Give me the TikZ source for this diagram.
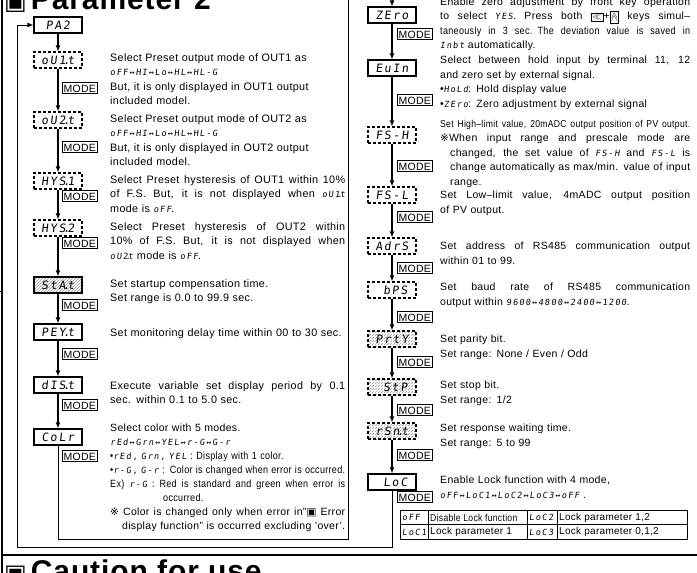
\documentclass[tikz,border=0pt]{standalone}
\usepackage{fontspec}
\setmainfont{Liberation Sans}[LetterSpace=3]
\newfontfamily\cndf[FakeStretch=0.86,LetterSpace=3]{Liberation Sans}
\newfontfamily\segf[FakeSlant=0.12,LetterSpace=15]{DejaVu Sans Mono}
\newfontfamily\symf{DejaVu Sans}
\usetikzlibrary{arrows.meta,patterns}

\newcommand{\sg}[1]{{\segf\fontsize{8.5}{10}\selectfont #1}}
\newcommand{\sdot}{\kern-2.5pt.\kern-2.5pt}
\newcommand{\jl}[1]{\makebox[\hsize][s]{\spaceskip=.28em plus 3em minus .04em\relax #1}}
\newcommand{\jlin}[1]{\hspace*{10pt}\makebox[\dimexpr\hsize-10pt\relax][s]{\spaceskip=.28em plus 3em minus .04em\relax #1}}
\newcommand{\keyic}[1]{\smash{\setlength{\fboxsep}{0.8pt}\setlength{\fboxrule}{1pt}\fbox{\fontsize{9}{9}\selectfont #1}}}

\begin{document}
\begin{tikzpicture}[x=1pt, y=-1pt,
  disp/.style={draw, line width=1.1pt, minimum width=48pt, minimum height=16pt, inner sep=0pt, font=\segf\fontsize{11.5}{12}\selectfont},
  dispd/.style={disp, dash pattern=on 3pt off 2pt},
  hatch/.style={pattern=north east lines, pattern color=gray!80},
  modekey/.style={draw, line width=0.7pt, anchor=west, inner xsep=1.2pt, inner ysep=1.5pt, text height=8pt, text depth=0pt, font=\fontsize{10.5}{11}\selectfont},
  desc/.style={anchor=north west, inner sep=0pt, align=left, text width=235pt, font=\fontsize{10.8}{14.5}\selectfont},
  rdesc/.style={desc, text width=250pt, font=\fontsize{10.5}{14.5}\selectfont},
  cellt/.style={anchor=west, inner sep=0pt, font=\fontsize{10}{10}\selectfont},
  flow/.style={line width=1.2pt},
  >={Latex[length=6pt,width=5pt]}
]
\useasboundingbox (0,0) rectangle (697,573);
\clip (0,0) rectangle (697,573);

% frame and section headers
\draw[line width=2pt] (2,-5) -- (2,580);
\draw[line width=2pt] (2,555) -- (700,555);
\draw (0,291) -- (3,291);
\node[anchor=base west, inner sep=0pt, font=\bfseries\fontsize{30}{30}\selectfont] (ttl) at (4,9) {{\symf\fontsize{24}{24}\selectfont ▣}\hspace{4pt}Parameter 2};
\node[anchor=base west, inner sep=0pt, font=\bfseries\fontsize{30}{30}\selectfont] (ctn) at (4,581) {{\symf\fontsize{24}{24}\selectfont ▣}\hspace{4pt}Caution for use};

% left column displays
\node[disp]        (pa2)  at (58,25)  {PA2};
\node[dispd]       (out1) at (58,60)  {oU1\sdot t};
\node[dispd]       (out2) at (58,120) {oU2\sdot t};
\node[dispd]       (hys1) at (58,181) {HYS\sdot 1};
\node[dispd]       (hys2) at (58,228) {HYS\sdot 2};
\node[disp, hatch] (star) at (58,285) {StA\sdot t};
\node[disp]        (pert) at (58,332) {PEY\sdot t};
\node[disp]        (dist) at (58,385) {dIS\sdot t};
\node[disp]        (colr) at (58,437) {CoLr};

% right column displays
\node[disp]         (zero) at (392,15)  {ZEro};
\node[disp]         (evin) at (392,68)  {EuIn};
\node[dispd]        (fsh)  at (392,135) {FS-H};
\node[dispd]        (fsl)  at (392,195) {FS-L};
\node[dispd]        (adrs) at (392,246) {AdrS};
\node[dispd]        (bps)  at (392,290) {\phantom{b}bPS};
\node[dispd, hatch] (prty) at (392,339) {PrtY};
\node[dispd, hatch] (stp)  at (392,387) {\phantom{b}StP};
\node[dispd, hatch] (rsnt) at (392,431) {rSn\sdot t};
\node[disp]         (loc)  at (392,482) {\phantom{b}LoC};

% MODE keys
\node[modekey] (mout1) at (62,88)  {MODE};
\node[modekey] (mout2) at (62,147) {MODE};
\node[modekey] (mhys1) at (62,196) {MODE};
\node[modekey] (mhys2) at (62,243) {MODE};
\node[modekey] (mstar) at (62,305) {MODE};
\node[modekey] (mpert) at (62,354) {MODE};
\node[modekey] (mdist) at (62,405) {MODE};
\node[modekey] (mcolr) at (62,456) {MODE};
\node[modekey] (mzero) at (397,34)  {MODE};
\node[modekey] (mevin) at (397,100) {MODE};
\node[modekey] (mfsh)  at (397,166) {MODE};
\node[modekey] (mfsl)  at (397,217) {MODE};
\node[modekey] (madrs) at (397,268) {MODE};
\node[modekey] (mbps)  at (397,317) {MODE};
\node[modekey] (mprty) at (397,362) {MODE};
\node[modekey] (mstp)  at (397,410) {MODE};
\node[modekey] (mrsnt) at (397,455) {MODE};
\node[modekey] (mloc)  at (397,497) {MODE};

% flow
\draw[->, flow] (pa2) -- (out1);
\draw[->, flow] (out1) -- (out2);
\draw[->, flow] (out2) -- (hys1);
\draw[->, flow] (hys1) -- (hys2);
\draw[->, flow] (hys2) -- (star);
\draw[->, flow] (star) -- (pert);
\draw[->, flow] (pert) -- (dist);
\draw[->, flow] (dist) -- (colr);
\draw[->, flow] (zero) -- (evin);
\draw[->, flow] (evin) -- (fsh);
\draw[->, flow] (fsh) -- (fsl);
\draw[->, flow] (fsl) -- (adrs);
\draw[->, flow] (adrs) -- (bps);
\draw[->, flow] (bps) -- (prty);
\draw[->, flow] (prty) -- (stp);
\draw[->, flow] (stp) -- (rsnt);
\draw[->, flow] (rsnt) -- (loc);

% loops: Colr to the right column, LoC back to PA2
\coordinate (cb) at (348,539);
\coordinate (ztop) at (392,-8);
\coordinate (lpc) at (17,547);
\draw[->, line width=1pt] (colr.south) |- (cb) |- (ztop) -- (zero.north);
\draw[->, line width=1pt] (loc.south) |- (lpc) |- (pa2.west);

% left descriptions
\node[desc] (dout1) at (110,53) {Select Preset output mode of OUT1 as\\ \sg{oFF↔HI↔Lo↔HL↔HL-G}\\ But, it is only displayed in OUT1 output\\ included model.};
\node[desc] (dout2) at (110,114) {Select Preset output mode of OUT2 as\\ \sg{oFF↔HI↔Lo↔HL↔HL-G}\\ But, it is only displayed in OUT2 output\\ included model.};
\node[desc] (dhys1) at (110,175) {\jl{Select Preset hysteresis of OUT1 within 10\%}\\ \jl{of F.S. But, it is not displayed when \sg{oU1\sdot t}}\\ mode is \sg{oFF}.};
\node[desc] (dhys2) at (110,222) {\jl{Select Preset hysteresis of OUT2 within}\\ \jl{10\% of F.S. But, it is not displayed when}\\ \sg{oU2\sdot t} mode is \sg{oFF}.};
\node[desc] (dstar) at (110,279) {Set startup compensation time.\\ Set range is 0.0 to 99.9 sec.};
\node[desc, text width=260pt] (dpert) at (110,328) {Set monitoring delay time within 00 to 30 sec.};
\node[desc] (ddist) at (110,381) {\jl{Execute variable set display period by 0.1}\\ sec. within 0.1 to 5.0 sec.};
\node[desc, font=\fontsize{10.5}{14}\selectfont] (dcolr) at (110,424) {Select color with 5 modes.\\
  \sg{rEd↔Grn↔YEL↔r-G↔G-r}\\
  {\cndf •\sg{rEd, Grn, YEL} : Display with 1 color.}\\
  {\cndf\jl{•\sg{r-G, G-r} : Color is changed when error is occurred.}}\\
  {\cndf\jl{Ex) \sg{r-G} : Red is standard and green when error is}}\\
  \hspace*{53pt}{\cndf occurred.}\\
  \jl{{\symf ※} Color is changed only when error in"{\symf ▣} Error}\\
  \hspace*{12pt}display function" is occurred excluding 'over'.};

% right descriptions
\node[rdesc] (dzero) at (440,-2.5) {\jl{Enable zero adjustment by front key operation}\\
  \jl{to select \sg{YES}. Press both \keyic{$\ll$}+\keyic{\rotatebox[origin=c]{-90}{$\ll$}} keys simul–}\\
  {\cndf\jl{taneously in 3 sec. The deviation value is saved in}}\\
  \sg{Inbt} automatically.};
\node[rdesc] (devin) at (440,56) {\jl{Select between hold input by terminal 11, 12}\\ and zero set by external signal.\\ •\sg{HoLd}: Hold display value\\ •\sg{ZEro}: Zero adjustment by external signal};
\node[rdesc] (dfsh) at (440,120) {{\cndf\fontsize{10}{10}\selectfont\jl{Set High–limit value, 20mADC output position of PV output.}}\\
  \jl{{\symf ※}When input range and prescale mode are}\\
  \jlin{changed, the set value of \sg{FS-H} and \sg{FS-L} is}\\
  \jlin{change automatically as max/min. value of input}\\
  \hspace*{10pt}range.};
\node[rdesc] (dfsl) at (440,191) {\jl{Set Low–limit value, 4mADC output position}\\ of PV output.};
\node[rdesc] (dadrs) at (440,242) {\jl{Set address of RS485 communication output}\\ within 01 to 99.};
\node[rdesc] (dbps) at (440,283) {\jl{Set baud rate of RS485 communication}\\ output within \sg{9600↔4800↔2400↔1200}.};
\node[rdesc] (dprty) at (440,335) {Set parity bit.\\ Set range: None / Even / Odd};
\node[rdesc] (dstp) at (440,381) {Set stop bit.\\ Set range: 1/2};
\node[rdesc] (drsnt) at (440,424) {Set response waiting time.\\ Set range: 5 to 99};
\node[rdesc] (dloc) at (440,476) {Enable Lock function with 4 mode,\\ \sg{oFF↔LoC1↔LoC2↔LoC3↔oFF} .};

% lock table
\draw[line width=0.7pt] (400,510) rectangle (687,539);
\draw[line width=0.7pt] (400,524.5) -- (687,524.5);
\draw[line width=0.7pt] (428,510) -- (428,539);
\draw[line width=0.7pt] (527,510) -- (527,539);
\draw[line width=0.7pt] (557,510) -- (557,539);
\node[cellt] (c11) at (402,517.5) {\sg{oFF}};
\node[cellt] (c12) at (430,517.5) {{\cndf Disable Lock function}};
\node[cellt] (c13) at (529,517.5) {\sg{LoC2}};
\node[cellt] (c14) at (559,517.5) {Lock parameter 1,2};
\node[cellt] (c21) at (402,532) {\sg{LoC1}};
\node[cellt] (c22) at (430,532) {Lock parameter 1};
\node[cellt] (c23) at (529,532) {\sg{LoC3}};
\node[cellt] (c24) at (559,532) {Lock parameter 0,1,2};
\end{tikzpicture}
\end{document}
